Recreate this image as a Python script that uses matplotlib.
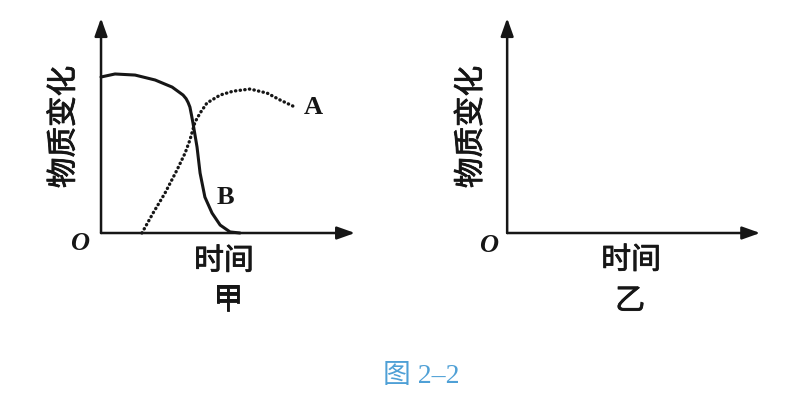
import numpy as np
import matplotlib.pyplot as plt
import matplotlib.patheffects as pe

plt.rcParams['font.family'] = ['Noto Sans CJK SC', 'DejaVu Sans']

b_x = [0, 0.55, 1.34, 2.13, 2.80, 3.23, 3.35, 3.43, 3.50, 3.56, 3.62, 3.78, 3.90, 4.09,
       4.37, 4.69, 5.08, 5.47]
b_y = [7.26, 7.40, 7.35, 7.12, 6.79, 6.42, 6.25, 6.07, 5.86, 5.50, 5.12, 4.00, 2.79, 1.67,
       0.93, 0.37, 0.05, 0]

# curve A (dotted)
a_x = [1.61, 2.05, 2.52, 2.99, 3.31, 3.50, 3.70, 3.90, 4.17, 4.69, 5.20, 5.87, 6.54, 7.05, 7.64]
a_y = [0, 0.93, 1.86, 2.93, 3.72, 4.33, 5.16, 5.58, 6.05, 6.42, 6.60, 6.70, 6.51, 6.19, 5.86]

y_label = '物质变化'
x_label = '时间'
panel_names = ['甲', '乙']
caption = '图 2–2'

ink = '#161616'
# regular CJK face thickened a little to match the print weight
heavy = [pe.withStroke(linewidth=0.6, foreground=ink)]

fig = plt.figure(figsize=(8.05, 4.07), dpi=100)
ax1 = fig.add_axes([0.1255, 0.4275, 0.3155, 0.528])
ax2 = fig.add_axes([0.630, 0.4275, 0.3143, 0.528])


def draw_frame(ax, name, ox, oy, yx, tx, ty, nx, ny):
    ax.set_xlim(0, 10)
    ax.set_ylim(0, 10)
    ax.axis('off')
    arrow = dict(arrowstyle='-|>,head_length=0.9,head_width=0.32', lw=1.8,
                 color=ink, shrinkA=0, shrinkB=0, mutation_scale=12)
    ax.annotate('', xy=(1, 0), xytext=(0, 0), xycoords='axes fraction', arrowprops=arrow)
    ax.annotate('', xy=(0, 1), xytext=(0, 0), xycoords='axes fraction', arrowprops=arrow)
    ax.text(ox, oy, 'O', family='Liberation Serif', style='italic', weight='bold',
            fontsize=19, ha='center', va='center', color=ink, clip_on=False)
    ax.text(yx, 4.93, y_label, rotation=90, fontsize=22, path_effects=heavy,
            ha='center', va='center', color=ink, clip_on=False)
    ax.text(tx, ty, x_label, fontsize=21.5, path_effects=heavy,
            ha='center', va='center', color=ink, clip_on=False)
    ax.text(nx, ny, name, fontsize=21.5, path_effects=heavy,
            ha='center', va='center', color=ink, clip_on=False)


draw_frame(ax1, panel_names[0], -0.83, -0.47, -1.46, 4.84, -1.30, 5.0, -3.12)
draw_frame(ax2, panel_names[1], -0.75, -0.56, -1.42, 4.9, -1.26, 4.86, -3.16)

ax1.plot(b_x, b_y, color=ink, lw=2.2, solid_joinstyle='round', solid_capstyle='round',
         clip_on=False)
ax1.plot(a_x, a_y, color=ink, lw=2.4, linestyle=(0, (0.1, 1.3)),
         dash_capstyle='round', clip_on=False)
ax1.text(8.35, 5.86, 'A', family='Liberation Serif', weight='bold', fontsize=19,
         ha='center', va='center', color=ink)
ax1.text(4.88, 1.63, 'B', family='Liberation Serif', weight='bold', fontsize=19,
         ha='center', va='center', color=ink)

fig.text(0.523, 0.076, caption, family=['Liberation Serif', 'Noto Sans CJK SC'],
         fontsize=20, color='#4fa0d6', ha='center', va='center')

fig.savefig('out.png', dpi=100)
